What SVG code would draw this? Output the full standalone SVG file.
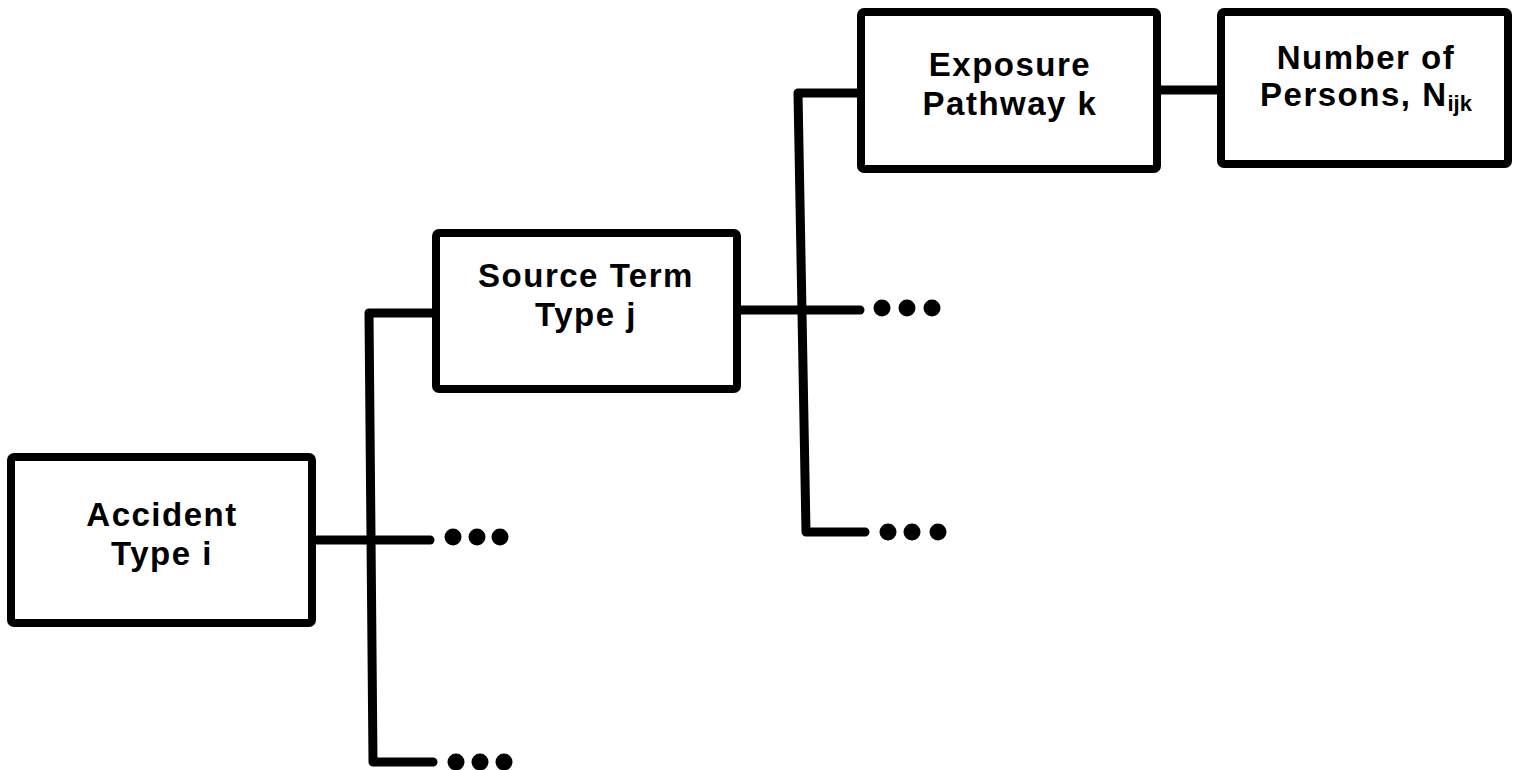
<svg xmlns="http://www.w3.org/2000/svg" width="1515" height="770" viewBox="0 0 1515 770">
<style>
.box{fill:#fff;stroke:#000;stroke-width:8;stroke-linejoin:round}
.lbl{font-family:"Liberation Sans",Arial,sans-serif;font-weight:bold;font-size:33px;letter-spacing:1.5px;fill:#000;text-anchor:middle}
.sub{font-size:22px;letter-spacing:0}
.ln{fill:none;stroke:#000;stroke-width:9;stroke-linecap:round;stroke-linejoin:round}
.dot{fill:#000}
</style>
<rect width="1515" height="770" fill="#fff"/>
<g id="connectors">
  <path class="ln" d="M313 540 H430"/>
  <path class="ln" d="M435 313 H369 L373 762 H433"/>
  <path class="ln" d="M737 310 H860"/>
  <path class="ln" d="M860 93 H798 L806 532 H865"/>
  <path class="ln" d="M1157 90 H1220"/>
  <g class="dot">
    <circle cx="453" cy="537" r="8.5"/><circle cx="477" cy="537" r="8.5"/><circle cx="500" cy="537" r="8.5"/>
    <circle cx="456" cy="762" r="8.5"/><circle cx="480" cy="762" r="8.5"/><circle cx="504" cy="762" r="8.5"/>
    <circle cx="882" cy="308" r="8.5"/><circle cx="907" cy="308" r="8.5"/><circle cx="932" cy="308" r="8.5"/>
    <circle cx="888" cy="532" r="8.5"/><circle cx="912" cy="532" r="8.5"/><circle cx="938" cy="532" r="8.5"/>
  </g>
</g>
<g id="accident">
  <rect class="box" x="11" y="457" width="301" height="166" rx="3"/>
  <text class="lbl" x="162" y="526">Accident</text>
  <text class="lbl" x="162" y="565">Type i</text>
</g>
<g id="source">
  <rect class="box" x="436" y="233" width="301" height="156" rx="3"/>
  <text class="lbl" x="586" y="287">Source Term</text>
  <text class="lbl" x="586" y="326">Type j</text>
</g>
<g id="exposure">
  <rect class="box" x="861" y="12" width="296" height="157" rx="3"/>
  <text class="lbl" x="1010" y="76">Exposure</text>
  <text class="lbl" x="1010" y="115">Pathway k</text>
</g>
<g id="persons">
  <rect class="box" x="1221" y="12" width="287" height="152" rx="3"/>
  <text class="lbl" x="1366" y="69">Number of</text>
  <text class="lbl" x="1366" y="106">Persons, N<tspan class="sub" dy="5">ijk</tspan></text>
</g>
</svg>
